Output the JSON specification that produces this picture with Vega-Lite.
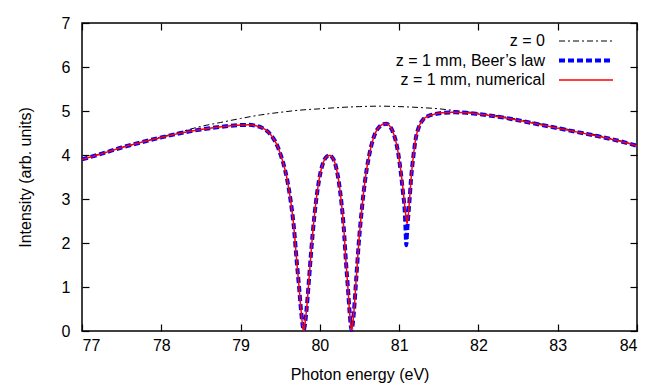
{
  "$schema": "https://vega.github.io/schema/vega-lite/v6.json",
  "width": 555,
  "height": 308,
  "autosize": {"type": "none"},
  "padding": {"left": 82, "top": 23, "right": 27, "bottom": 61},
  "background": "white",
  "config": {
    "view": {"stroke": "black", "strokeWidth": 1.5},
    "font": "Liberation Sans",
    "axis": {"labelFont": "Liberation Sans", "titleFont": "Liberation Sans", "labelFontSize": 16, "titleFontSize": 16, "titleFontWeight": "normal", "labelColor": "black", "titleColor": "black", "tickColor": "black", "grid": false, "domain": false, "tickSize": -7, "tickWidth": 1.2},
    "legend": {"labelFont": "Liberation Sans", "labelFontSize": 16, "labelColor": "black"}
  },
  "datasets": {"d": [
    {"e":77.0,"v":3.90,"s":"z = 0"},{"e":77.25,"v":4.04,"s":"z = 0"},{"e":77.5,"v":4.17,"s":"z = 0"},{"e":77.75,"v":4.29,"s":"z = 0"},{"e":78.0,"v":4.41,"s":"z = 0"},{"e":78.25,"v":4.53,"s":"z = 0"},{"e":78.5,"v":4.65,"s":"z = 0"},{"e":78.75,"v":4.74,"s":"z = 0"},{"e":79.0,"v":4.83,"s":"z = 0"},{"e":79.25,"v":4.91,"s":"z = 0"},{"e":79.5,"v":4.97,"s":"z = 0"},{"e":79.75,"v":5.02,"s":"z = 0"},{"e":80.0,"v":5.05,"s":"z = 0"},{"e":80.25,"v":5.08,"s":"z = 0"},{"e":80.5,"v":5.10,"s":"z = 0"},{"e":80.75,"v":5.11,"s":"z = 0"},{"e":81.0,"v":5.10,"s":"z = 0"},{"e":81.25,"v":5.08,"s":"z = 0"},{"e":81.5,"v":5.05,"s":"z = 0"},{"e":81.75,"v":5.00,"s":"z = 0"},{"e":82.0,"v":4.95,"s":"z = 0"},{"e":82.25,"v":4.89,"s":"z = 0"},{"e":82.5,"v":4.81,"s":"z = 0"},{"e":82.75,"v":4.72,"s":"z = 0"},{"e":83.0,"v":4.63,"s":"z = 0"},{"e":83.25,"v":4.54,"s":"z = 0"},{"e":83.5,"v":4.45,"s":"z = 0"},{"e":83.75,"v":4.34,"s":"z = 0"},{"e":84.0,"v":4.22,"s":"z = 0"},

    {"e":77.0,"v":3.90,"s":"z = 1 mm, Beer’s law"},{"e":77.25,"v":4.03,"s":"z = 1 mm, Beer’s law"},{"e":77.5,"v":4.17,"s":"z = 1 mm, Beer’s law"},{"e":77.75,"v":4.29,"s":"z = 1 mm, Beer’s law"},{"e":78.0,"v":4.40,"s":"z = 1 mm, Beer’s law"},{"e":78.25,"v":4.50,"s":"z = 1 mm, Beer’s law"},{"e":78.5,"v":4.58,"s":"z = 1 mm, Beer’s law"},{"e":78.75,"v":4.64,"s":"z = 1 mm, Beer’s law"},{"e":79.0,"v":4.68,"s":"z = 1 mm, Beer’s law"},{"e":79.1,"v":4.685,"s":"z = 1 mm, Beer’s law"},{"e":79.2,"v":4.66,"s":"z = 1 mm, Beer’s law"},{"e":79.27,"v":4.62,"s":"z = 1 mm, Beer’s law"},{"e":79.33,"v":4.55,"s":"z = 1 mm, Beer’s law"},{"e":79.38,"v":4.46,"s":"z = 1 mm, Beer’s law"},{"e":79.43,"v":4.33,"s":"z = 1 mm, Beer’s law"},{"e":79.47,"v":4.18,"s":"z = 1 mm, Beer’s law"},{"e":79.51,"v":3.98,"s":"z = 1 mm, Beer’s law"},{"e":79.55,"v":3.74,"s":"z = 1 mm, Beer’s law"},{"e":79.59,"v":3.42,"s":"z = 1 mm, Beer’s law"},{"e":79.63,"v":2.98,"s":"z = 1 mm, Beer’s law"},{"e":79.67,"v":2.40,"s":"z = 1 mm, Beer’s law"},{"e":79.71,"v":1.55,"s":"z = 1 mm, Beer’s law"},{"e":79.74,"v":0.95,"s":"z = 1 mm, Beer’s law"},{"e":79.76,"v":0.52,"s":"z = 1 mm, Beer’s law"},{"e":79.78,"v":0.17,"s":"z = 1 mm, Beer’s law"},{"e":79.795,"v":0.02,"s":"z = 1 mm, Beer’s law"},{"e":79.81,"v":0.12,"s":"z = 1 mm, Beer’s law"},{"e":79.83,"v":0.45,"s":"z = 1 mm, Beer’s law"},{"e":79.86,"v":1.10,"s":"z = 1 mm, Beer’s law"},{"e":79.89,"v":1.80,"s":"z = 1 mm, Beer’s law"},{"e":79.93,"v":2.60,"s":"z = 1 mm, Beer’s law"},{"e":79.97,"v":3.20,"s":"z = 1 mm, Beer’s law"},{"e":80.01,"v":3.62,"s":"z = 1 mm, Beer’s law"},{"e":80.05,"v":3.86,"s":"z = 1 mm, Beer’s law"},{"e":80.09,"v":3.97,"s":"z = 1 mm, Beer’s law"},{"e":80.12,"v":3.99,"s":"z = 1 mm, Beer’s law"},{"e":80.15,"v":3.96,"s":"z = 1 mm, Beer’s law"},{"e":80.18,"v":3.87,"s":"z = 1 mm, Beer’s law"},{"e":80.21,"v":3.68,"s":"z = 1 mm, Beer’s law"},{"e":80.24,"v":3.38,"s":"z = 1 mm, Beer’s law"},{"e":80.27,"v":2.95,"s":"z = 1 mm, Beer’s law"},{"e":80.30,"v":2.38,"s":"z = 1 mm, Beer’s law"},{"e":80.33,"v":1.55,"s":"z = 1 mm, Beer’s law"},{"e":80.355,"v":0.95,"s":"z = 1 mm, Beer’s law"},{"e":80.375,"v":0.43,"s":"z = 1 mm, Beer’s law"},{"e":80.39,"v":0.12,"s":"z = 1 mm, Beer’s law"},{"e":80.40,"v":0.02,"s":"z = 1 mm, Beer’s law"},{"e":80.41,"v":0.10,"s":"z = 1 mm, Beer’s law"},{"e":80.43,"v":0.45,"s":"z = 1 mm, Beer’s law"},{"e":80.46,"v":1.22,"s":"z = 1 mm, Beer’s law"},{"e":80.49,"v":1.98,"s":"z = 1 mm, Beer’s law"},{"e":80.53,"v":2.78,"s":"z = 1 mm, Beer’s law"},{"e":80.57,"v":3.42,"s":"z = 1 mm, Beer’s law"},{"e":80.61,"v":3.88,"s":"z = 1 mm, Beer’s law"},{"e":80.65,"v":4.22,"s":"z = 1 mm, Beer’s law"},{"e":80.70,"v":4.50,"s":"z = 1 mm, Beer’s law"},{"e":80.75,"v":4.64,"s":"z = 1 mm, Beer’s law"},{"e":80.80,"v":4.70,"s":"z = 1 mm, Beer’s law"},{"e":80.84,"v":4.71,"s":"z = 1 mm, Beer’s law"},{"e":80.88,"v":4.66,"s":"z = 1 mm, Beer’s law"},{"e":80.92,"v":4.53,"s":"z = 1 mm, Beer’s law"},{"e":80.96,"v":4.30,"s":"z = 1 mm, Beer’s law"},{"e":80.99,"v":4.02,"s":"z = 1 mm, Beer’s law"},{"e":81.02,"v":3.62,"s":"z = 1 mm, Beer’s law"},{"e":81.05,"v":3.12,"s":"z = 1 mm, Beer’s law"},{"e":81.07,"v":2.75,"s":"z = 1 mm, Beer’s law"},{"e":81.08,"v":2.35,"s":"z = 1 mm, Beer’s law"},{"e":81.09,"v":1.95,"s":"z = 1 mm, Beer’s law"},{"e":81.10,"v":2.25,"s":"z = 1 mm, Beer’s law"},{"e":81.11,"v":2.50,"s":"z = 1 mm, Beer’s law"},{"e":81.13,"v":2.95,"s":"z = 1 mm, Beer’s law"},{"e":81.15,"v":3.45,"s":"z = 1 mm, Beer’s law"},{"e":81.18,"v":3.98,"s":"z = 1 mm, Beer’s law"},{"e":81.21,"v":4.38,"s":"z = 1 mm, Beer’s law"},{"e":81.25,"v":4.64,"s":"z = 1 mm, Beer’s law"},{"e":81.30,"v":4.80,"s":"z = 1 mm, Beer’s law"},{"e":81.36,"v":4.88,"s":"z = 1 mm, Beer’s law"},{"e":81.45,"v":4.93,"s":"z = 1 mm, Beer’s law"},{"e":81.55,"v":4.96,"s":"z = 1 mm, Beer’s law"},{"e":81.70,"v":4.97,"s":"z = 1 mm, Beer’s law"},{"e":81.85,"v":4.96,"s":"z = 1 mm, Beer’s law"},{"e":82.0,"v":4.93,"s":"z = 1 mm, Beer’s law"},{"e":82.25,"v":4.87,"s":"z = 1 mm, Beer’s law"},{"e":82.5,"v":4.79,"s":"z = 1 mm, Beer’s law"},{"e":82.75,"v":4.70,"s":"z = 1 mm, Beer’s law"},{"e":83.0,"v":4.61,"s":"z = 1 mm, Beer’s law"},{"e":83.25,"v":4.52,"s":"z = 1 mm, Beer’s law"},{"e":83.5,"v":4.43,"s":"z = 1 mm, Beer’s law"},{"e":83.75,"v":4.33,"s":"z = 1 mm, Beer’s law"},{"e":84.0,"v":4.21,"s":"z = 1 mm, Beer’s law"},

    {"e":77.0,"v":3.90,"s":"z = 1 mm, numerical"},{"e":77.25,"v":4.03,"s":"z = 1 mm, numerical"},{"e":77.5,"v":4.17,"s":"z = 1 mm, numerical"},{"e":77.75,"v":4.29,"s":"z = 1 mm, numerical"},{"e":78.0,"v":4.40,"s":"z = 1 mm, numerical"},{"e":78.25,"v":4.50,"s":"z = 1 mm, numerical"},{"e":78.5,"v":4.58,"s":"z = 1 mm, numerical"},{"e":78.75,"v":4.64,"s":"z = 1 mm, numerical"},{"e":79.0,"v":4.68,"s":"z = 1 mm, numerical"},{"e":79.1,"v":4.685,"s":"z = 1 mm, numerical"},{"e":79.2,"v":4.66,"s":"z = 1 mm, numerical"},{"e":79.27,"v":4.62,"s":"z = 1 mm, numerical"},{"e":79.33,"v":4.55,"s":"z = 1 mm, numerical"},{"e":79.38,"v":4.46,"s":"z = 1 mm, numerical"},{"e":79.43,"v":4.33,"s":"z = 1 mm, numerical"},{"e":79.47,"v":4.18,"s":"z = 1 mm, numerical"},{"e":79.51,"v":3.98,"s":"z = 1 mm, numerical"},{"e":79.55,"v":3.74,"s":"z = 1 mm, numerical"},{"e":79.59,"v":3.42,"s":"z = 1 mm, numerical"},{"e":79.63,"v":2.98,"s":"z = 1 mm, numerical"},{"e":79.67,"v":2.40,"s":"z = 1 mm, numerical"},{"e":79.71,"v":1.55,"s":"z = 1 mm, numerical"},{"e":79.74,"v":0.95,"s":"z = 1 mm, numerical"},{"e":79.76,"v":0.52,"s":"z = 1 mm, numerical"},{"e":79.78,"v":0.17,"s":"z = 1 mm, numerical"},{"e":79.795,"v":0.02,"s":"z = 1 mm, numerical"},{"e":79.81,"v":0.12,"s":"z = 1 mm, numerical"},{"e":79.83,"v":0.45,"s":"z = 1 mm, numerical"},{"e":79.86,"v":1.10,"s":"z = 1 mm, numerical"},{"e":79.89,"v":1.80,"s":"z = 1 mm, numerical"},{"e":79.93,"v":2.60,"s":"z = 1 mm, numerical"},{"e":79.97,"v":3.20,"s":"z = 1 mm, numerical"},{"e":80.01,"v":3.62,"s":"z = 1 mm, numerical"},{"e":80.05,"v":3.86,"s":"z = 1 mm, numerical"},{"e":80.09,"v":3.97,"s":"z = 1 mm, numerical"},{"e":80.12,"v":3.99,"s":"z = 1 mm, numerical"},{"e":80.15,"v":3.96,"s":"z = 1 mm, numerical"},{"e":80.18,"v":3.87,"s":"z = 1 mm, numerical"},{"e":80.21,"v":3.68,"s":"z = 1 mm, numerical"},{"e":80.24,"v":3.38,"s":"z = 1 mm, numerical"},{"e":80.27,"v":2.95,"s":"z = 1 mm, numerical"},{"e":80.30,"v":2.38,"s":"z = 1 mm, numerical"},{"e":80.33,"v":1.55,"s":"z = 1 mm, numerical"},{"e":80.355,"v":0.95,"s":"z = 1 mm, numerical"},{"e":80.375,"v":0.43,"s":"z = 1 mm, numerical"},{"e":80.39,"v":0.12,"s":"z = 1 mm, numerical"},{"e":80.40,"v":0.02,"s":"z = 1 mm, numerical"},{"e":80.41,"v":0.10,"s":"z = 1 mm, numerical"},{"e":80.43,"v":0.45,"s":"z = 1 mm, numerical"},{"e":80.46,"v":1.22,"s":"z = 1 mm, numerical"},{"e":80.49,"v":1.98,"s":"z = 1 mm, numerical"},{"e":80.53,"v":2.78,"s":"z = 1 mm, numerical"},{"e":80.57,"v":3.42,"s":"z = 1 mm, numerical"},{"e":80.61,"v":3.88,"s":"z = 1 mm, numerical"},{"e":80.65,"v":4.22,"s":"z = 1 mm, numerical"},{"e":80.70,"v":4.50,"s":"z = 1 mm, numerical"},{"e":80.75,"v":4.64,"s":"z = 1 mm, numerical"},{"e":80.80,"v":4.70,"s":"z = 1 mm, numerical"},{"e":80.84,"v":4.71,"s":"z = 1 mm, numerical"},{"e":80.88,"v":4.66,"s":"z = 1 mm, numerical"},{"e":80.92,"v":4.53,"s":"z = 1 mm, numerical"},{"e":80.96,"v":4.30,"s":"z = 1 mm, numerical"},{"e":80.99,"v":4.02,"s":"z = 1 mm, numerical"},{"e":81.02,"v":3.65,"s":"z = 1 mm, numerical"},{"e":81.05,"v":3.20,"s":"z = 1 mm, numerical"},{"e":81.07,"v":2.85,"s":"z = 1 mm, numerical"},{"e":81.09,"v":2.55,"s":"z = 1 mm, numerical"},{"e":81.10,"v":2.45,"s":"z = 1 mm, numerical"},{"e":81.11,"v":2.55,"s":"z = 1 mm, numerical"},{"e":81.13,"v":2.95,"s":"z = 1 mm, numerical"},{"e":81.15,"v":3.45,"s":"z = 1 mm, numerical"},{"e":81.18,"v":3.98,"s":"z = 1 mm, numerical"},{"e":81.21,"v":4.38,"s":"z = 1 mm, numerical"},{"e":81.25,"v":4.64,"s":"z = 1 mm, numerical"},{"e":81.30,"v":4.80,"s":"z = 1 mm, numerical"},{"e":81.36,"v":4.88,"s":"z = 1 mm, numerical"},{"e":81.45,"v":4.93,"s":"z = 1 mm, numerical"},{"e":81.55,"v":4.96,"s":"z = 1 mm, numerical"},{"e":81.70,"v":4.97,"s":"z = 1 mm, numerical"},{"e":81.85,"v":4.96,"s":"z = 1 mm, numerical"},{"e":82.0,"v":4.93,"s":"z = 1 mm, numerical"},{"e":82.25,"v":4.87,"s":"z = 1 mm, numerical"},{"e":82.5,"v":4.79,"s":"z = 1 mm, numerical"},{"e":82.75,"v":4.70,"s":"z = 1 mm, numerical"},{"e":83.0,"v":4.61,"s":"z = 1 mm, numerical"},{"e":83.25,"v":4.52,"s":"z = 1 mm, numerical"},{"e":83.5,"v":4.43,"s":"z = 1 mm, numerical"},{"e":83.75,"v":4.33,"s":"z = 1 mm, numerical"},{"e":84.0,"v":4.21,"s":"z = 1 mm, numerical"}
  ]},
  "data": {"name": "d"},
  "encoding": {
    "x": {"field": "e", "type": "quantitative", "scale": {"domain": [77, 84], "nice": false, "zero": false}},
    "y": {"field": "v", "type": "quantitative", "scale": {"domain": [0, 7], "nice": false}}
  },
  "layer": [
    {"transform": [{"filter": "datum.s === 'z = 0'"}], "mark": {"type": "line", "interpolate": "monotone", "strokeWidth": 1},
     "encoding": {
       "x": {"field": "e", "type": "quantitative", "axis": {"values": [77,78,79,80,81,82,83,84], "title": "Photon energy (eV)", "labelPadding": 13, "titlePadding": 13}},
       "y": {"field": "v", "type": "quantitative", "axis": {"values": [0,1,2,3,4,5,6,7], "title": "Intensity (arb. units)", "labelPadding": 19, "titlePadding": 28}},
       "color": {"field": "s", "type": "nominal", "scale": {"domain": ["z = 0", "z = 1 mm, Beer’s law", "z = 1 mm, numerical"], "range": ["#000000", "#0000ff", "#ff0000"]},
         "legend": {"title": null, "orient": "none", "legendX": 496, "legendY": 10, "padding": 0, "symbolType": "M-3,0H3", "symbolSize": 324, "labelAlign": "right", "labelOffset": -49, "rowPadding": 3.5,
           "encode": {"symbols": {"update": {"strokeWidth": {"signal": "datum.value === 'z = 0' ? 1 : datum.value === 'z = 1 mm, numerical' ? 1.5 : 4"}, "opacity": {"value": 1}, "fill": {"value": "transparent"}}}}}},
       "strokeDash": {"field": "s", "type": "nominal", "scale": {"domain": ["z = 0", "z = 1 mm, Beer’s law", "z = 1 mm, numerical"], "range": [[6, 3, 2, 3], [6, 3], [1, 0]]}, "legend": {"title": null}}
     }},
    {"transform": [{"filter": "datum.s === 'z = 1 mm, Beer’s law'"}], "mark": {"type": "line", "interpolate": "monotone", "strokeWidth": 4},
     "encoding": {"x": {"field": "e", "type": "quantitative", "axis": null}, "y": {"field": "v", "type": "quantitative", "axis": null},
       "color": {"field": "s", "type": "nominal"}, "strokeDash": {"field": "s", "type": "nominal"}}},
    {"transform": [{"filter": "datum.s === 'z = 1 mm, numerical'"}], "mark": {"type": "line", "interpolate": "monotone", "strokeWidth": 1.5},
     "encoding": {"x": {"field": "e", "type": "quantitative", "axis": null}, "y": {"field": "v", "type": "quantitative", "axis": null},
       "color": {"field": "s", "type": "nominal"}, "strokeDash": {"field": "s", "type": "nominal"}}},
    {"transform": [{"filter": "datum.s === 'z = 0'"}], "mark": {"type": "line", "strokeOpacity": 0, "color": "white"},
     "encoding": {
       "x": {"field": "e", "type": "quantitative", "axis": {"orient": "top", "values": [77,78,79,80,81,82,83,84], "labels": false, "title": null}},
       "y": {"field": "v", "type": "quantitative", "axis": {"orient": "right", "values": [0,1,2,3,4,5,6,7], "labels": false, "title": null}}
     }}
  ],
  "resolve": {"axis": {"x": "independent", "y": "independent"}}
}
